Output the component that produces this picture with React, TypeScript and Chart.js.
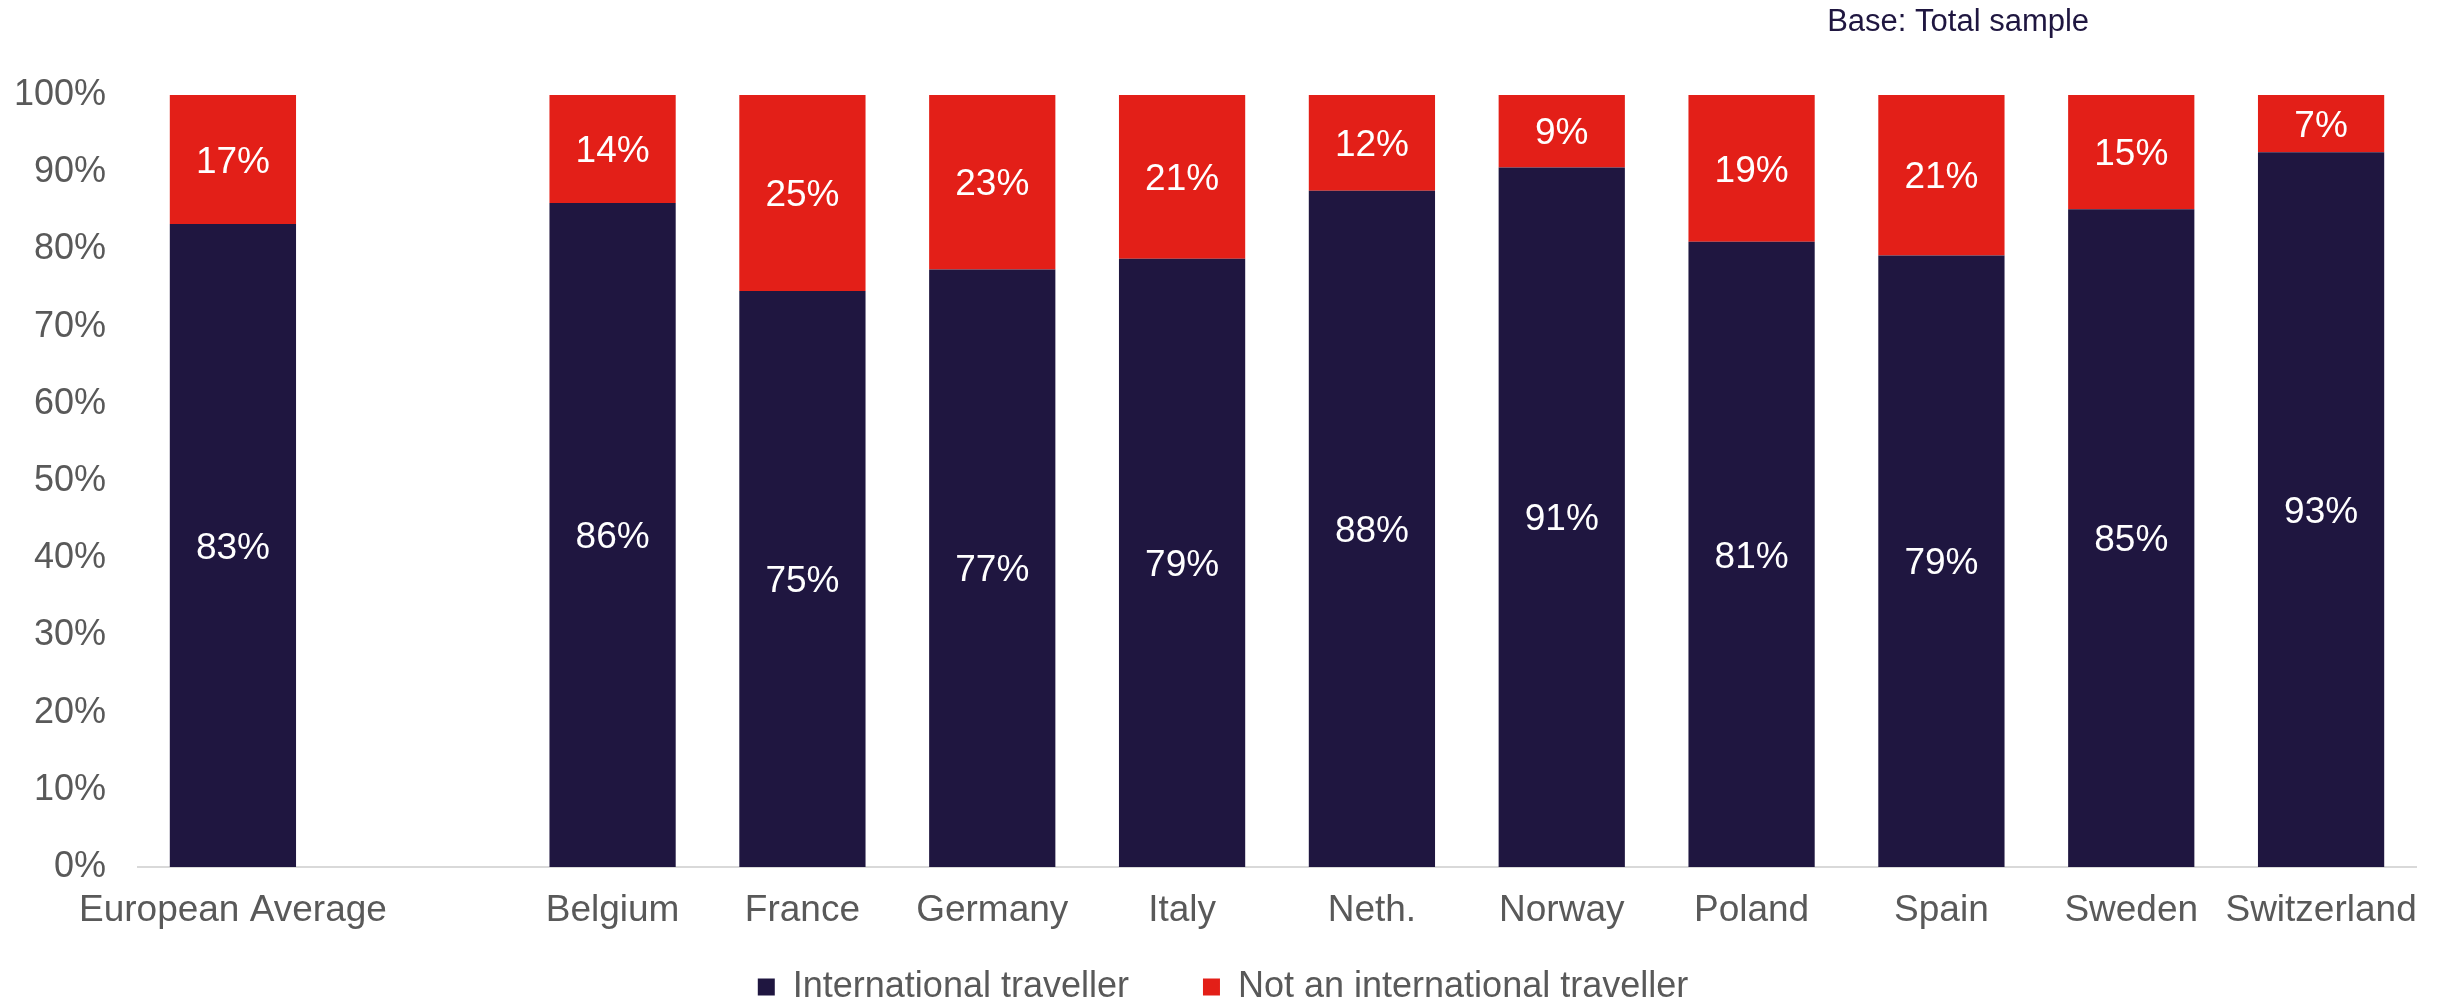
import React, { useEffect, useRef } from "react";
import { Chart, registerables } from "chart.js";

Chart.register(...registerables);

const categories = ["European Average", "", "Belgium", "France", "Germany", "Italy", "Neth.", "Norway", "Poland", "Spain", "Sweden", "Switzerland"];
const internationalValues: (number | null)[] = [83.3, null, 86.0, 74.6, 77.4, 78.8, 87.6, 90.6, 81.0, 79.2, 85.2, 92.6];
const notInternationalValues: (number | null)[] = [16.7, null, 14.0, 25.4, 22.6, 21.2, 12.4, 9.4, 19.0, 20.8, 14.8, 7.4];
const seriesNames = ["International traveller", "Not an international traveller"];
const baseNote = "Base: Total sample";

const FONT = "'Liberation Sans', Arial, sans-serif";
const DARK = "#1F1640";
const RED = "#E31F18";
const GREY = "#595959";
const LEGEND_PAD = 74;

const labelPlugin = {
  id: "segmentLabels",
  afterDatasetsDraw(chart: any) {
    const ctx = chart.ctx;
    ctx.save();
    ctx.font = `37px ${FONT}`;
    ctx.fillStyle = "#FFFFFF";
    ctx.textAlign = "center";
    ctx.textBaseline = "middle";
    chart.data.datasets.forEach((ds: any, di: number) => {
      const meta = chart.getDatasetMeta(di);
      meta.data.forEach((bar: any, i: number) => {
        const v = ds.data[i];
        if (v == null) return;
        const cy = (bar.y + bar.base) / 2;
        ctx.fillText(`${Math.round(v)}%`, bar.x, cy + 3);
      });
    });
    ctx.restore();
  },
};

const notePlugin = {
  id: "baseNote",
  afterDraw(chart: any) {
    const { ctx, chartArea } = chart;
    ctx.save();
    ctx.font = `31px ${FONT}`;
    ctx.fillStyle = DARK;
    ctx.textAlign = "center";
    ctx.textBaseline = "middle";
    const x = chartArea.left + (chartArea.right - chartArea.left) * 0.799;
    ctx.fillText(baseNote, x, 22);
    ctx.restore();
  },
};

const legendFitPlugin = {
  id: "legendFit",
  beforeUpdate(chart: any) {
    const lg = chart.legend;
    if (lg && !lg.__wrapped) {
      const orig = lg.fit;
      lg.fit = function () {
        orig.call(this);
        this.height = 71;
      };
      lg.__wrapped = true;
    }
  },
  afterLayout(chart: any) {
    const lg = chart.legend;
    if (!lg) return;
    const targetCenter = chart.height - 21;
    lg.top = targetCenter - LEGEND_PAD - 18;
    lg.bottom = chart.height;
    lg.height = lg.bottom - lg.top;
    lg.left = lg.left + 30;
    lg.width = lg.right - lg.left;
  },
};

export default function App() {
  const canvasRef = useRef<HTMLCanvasElement | null>(null);

  useEffect(() => {
    if (!canvasRef.current) return;
    const chart = new Chart(canvasRef.current, {
      type: "bar",
      data: {
        labels: categories,
        datasets: [
          {
            label: seriesNames[0],
            data: internationalValues,
            backgroundColor: DARK,
            categoryPercentage: 1,
            barPercentage: 0.665,
          },
          {
            label: seriesNames[1],
            data: notInternationalValues,
            backgroundColor: RED,
            categoryPercentage: 1,
            barPercentage: 0.665,
          },
        ],
      },
      options: {
        responsive: true,
        maintainAspectRatio: false,
        animation: false,
        layout: { padding: { top: 95, right: 24, left: 0, bottom: 0 } },
        plugins: {
          legend: {
            position: "bottom",
            labels: {
              font: { family: FONT, size: 36 },
              color: GREY,
              boxWidth: 17,
              boxHeight: 17,
              padding: LEGEND_PAD,
            },
          },
          tooltip: { enabled: false },
          title: { display: false },
        },
        scales: {
          x: {
            stacked: true,
            grid: { display: false },
            border: { display: true, color: "#D9D9D9", width: 2 },
            ticks: {
              font: { family: FONT, size: 37 },
              color: GREY,
              padding: 14,
              maxRotation: 0,
              autoSkip: false,
            },
            afterFit(scale: any) {
              scale.height = 70;
            },
          },
          y: {
            stacked: true,
            min: 0,
            max: 100,
            grid: { display: false },
            border: { display: false },
            ticks: {
              stepSize: 10,
              font: { family: FONT, size: 36 },
              color: GREY,
              padding: 24,
              callback: (v: any) => `${v}%`,
            },
            afterFit(scale: any) {
              scale.width = 138;
            },
          },
        },
      },
      plugins: [labelPlugin, notePlugin, legendFitPlugin],
    } as any);
    return () => chart.destroy();
  }, []);

  return (
    <div style={{ position: "fixed", left: 0, top: 0, width: 2440, height: 1008, background: "#fff" }}>
      <canvas ref={canvasRef} />
    </div>
  );
}
